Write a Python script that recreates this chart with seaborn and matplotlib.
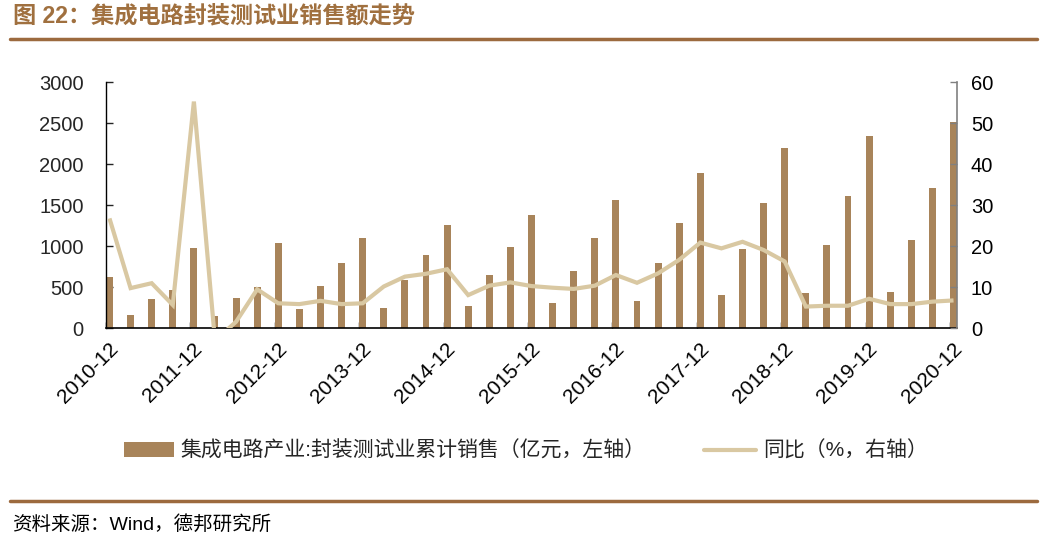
import numpy as np
import pandas as pd
import matplotlib
matplotlib.use("Agg")
import matplotlib.pyplot as plt
import matplotlib.transforms as mtransforms
from matplotlib.lines import Line2D
from matplotlib.patches import Patch
import seaborn as sns

# ---------------- data ----------------
periods = [
    "2010-12", "2011-03", "2011-06", "2011-09", "2011-12",
    "2012-03", "2012-06", "2012-09", "2012-12",
    "2013-03", "2013-06", "2013-09", "2013-12",
    "2014-03", "2014-06", "2014-09", "2014-12",
    "2015-03", "2015-06", "2015-09", "2015-12",
    "2016-03", "2016-06", "2016-09", "2016-12",
    "2017-03", "2017-06", "2017-09", "2017-12",
    "2018-03", "2018-06", "2018-09", "2018-12",
    "2019-03", "2019-06", "2019-09", "2019-12",
    "2020-03", "2020-06", "2020-09", "2020-12",
]
sales = [630, 160, 362, 467, 976, 154, 370, 508, 1036, 232, 516, 793, 1099,
         252, 585, 890, 1256, 276, 646, 992, 1384, 305, 703, 1098, 1564,
         337, 801, 1280, 1890, 402, 972, 1524, 2194, 427, 1020, 1610, 2350,
         447, 1081, 1711, 2510]
yoy = [26.8, 9.8, 11.0, 5.7, 55.3, -3.0, 1.6, 9.5, 6.1, 5.9, 6.7, 5.9, 6.1,
       10.2, 12.6, 13.3, 14.4, 8.1, 10.4, 11.2, 10.3, 9.9, 9.6, 10.4, 13.0,
       11.1, 13.4, 16.7, 20.9, 19.5, 21.1, 19.1, 16.3, 5.3, 5.5, 5.5, 7.2,
       5.9, 5.9, 6.5, 6.8]
tick_labels = ["2010-12", "2011-12", "2012-12", "2013-12", "2014-12", "2015-12",
               "2016-12", "2017-12", "2018-12", "2019-12", "2020-12"]
left_ticks = [0, 500, 1000, 1500, 2000, 2500, 3000]
right_ticks = [0, 10, 20, 30, 40, 50, 60]

title = "图 22：集成电路封装测试业销售额走势"
bar_label = "集成电路产业:封装测试业累计销售（亿元，左轴）"
line_label = "同比（%，右轴）"
source = "资料来源：Wind，德邦研究所"

# ---------------- style ----------------
sns.set_style("white")
plt.rcParams["font.family"] = ["Liberation Sans", "Noto Sans CJK SC"]
plt.rcParams["axes.unicode_minus"] = False

BAR_C = "#A8845A"
LINE_C = "#D9C8A2"
BROWN = "#9C6A3E"

df = pd.DataFrame({"period": periods, "sales": sales, "yoy": yoy})
df["pos"] = range(len(df))

W, H, DPI = 10.5, 5.38, 100
fig = plt.figure(figsize=(W, H), dpi=DPI)
ax = fig.add_axes([106 / 1050, 1 - 328.3 / 538, (957 - 106) / 1050, (328.3 - 82.3) / 538])

bw = 0.33
sns.barplot(data=df, x="period", y="sales", order=periods, color=BAR_C,
            width=bw, saturation=1, ax=ax, edgecolor="none")
ax2 = ax.twinx()
sns.lineplot(data=df, x="pos", y="yoy", color=LINE_C, linewidth=3.0, ax=ax2,
             solid_joinstyle="miter", solid_capstyle="butt")

n = len(periods)
ax.set_xlim(-bw / 2, n - 1 + bw / 2)
ax2.set_xlim(-bw / 2, n - 1 + bw / 2)
ax.set_ylim(0, 3000)
ax2.set_ylim(0, 60)
ax.set_yticks(left_ticks)
ax.set_yticklabels([str(t) for t in left_ticks])
ax2.set_yticks(right_ticks)
ax2.set_yticklabels([str(t) for t in right_ticks])

tick_pos = [periods.index(p) - bw / 2 for p in tick_labels]
ax.set_xticks(tick_pos)
ax.set_xticklabels(tick_labels, rotation=45, ha="right", va="center",
                   rotation_mode="anchor")
ax.set_xlabel("")
ax.set_ylabel("")
ax2.set_xlabel("")
ax2.set_ylabel("")

ax.tick_params(axis="x", direction="in", length=4, width=1, pad=13,
               labelsize=15, colors="black", bottom=True)
ax.tick_params(axis="y", direction="in", length=5, width=1, pad=16,
               labelsize=14.5, left=True)
ax2.tick_params(axis="y", direction="in", length=5, width=1, pad=10,
                labelsize=14.5, right=True, color="#808080", labelcolor="black")

offset = mtransforms.ScaledTranslation(6.5 / 72, 0, fig.dpi_scale_trans)
for lab in ax.get_xticklabels():
    lab.set_transform(lab.get_transform() + offset)

for a in (ax, ax2):
    a.spines["top"].set_visible(False)
    a.grid(False)
ax.spines["right"].set_visible(False)
ax.spines["left"].set_color("black")
ax.spines["bottom"].set_color("black")
ax.spines["left"].set_linewidth(1)
ax.spines["bottom"].set_linewidth(1.2)
ax2.spines["left"].set_visible(False)
ax2.spines["bottom"].set_visible(False)
ax2.spines["right"].set_color("#808080")
ax2.spines["right"].set_linewidth(1.2)
ax.set_zorder(1)
ax2.set_zorder(2)
ax2.patch.set_visible(False)

# ---------------- legends ----------------
h1 = Patch(facecolor=BAR_C, edgecolor="none")
leg1 = fig.legend([h1], [bar_label], loc="center left",
                  bbox_to_anchor=(124 / 1050, 1 - 451 / 538), frameon=False,
                  borderpad=0, borderaxespad=0, handlelength=2.4,
                  handleheight=0.75, handletextpad=0.33, fontsize=15)
h2 = Line2D([], [], color=LINE_C, linewidth=3.0)
leg2 = fig.legend([h2], [line_label], loc="center left",
                  bbox_to_anchor=(704 / 1050, 1 - 451 / 538), frameon=False,
                  borderpad=0, borderaxespad=0, handlelength=2.5,
                  handletextpad=0.33, fontsize=15)

# ---------------- title / rules / source ----------------
fig.text(13 / 1050, 1 - 16 / 538, title, fontsize=16.7, fontweight="bold",
         color="#A0703F", ha="left", va="center")
fig.add_artist(Line2D([10 / 1050, 1037 / 1050], [1 - 38.5 / 538] * 2,
                      transform=fig.transFigure, color=BROWN, linewidth=2.5))
fig.add_artist(Line2D([10 / 1050, 1037 / 1050], [1 - 501 / 538] * 2,
                      transform=fig.transFigure, color=BROWN, linewidth=2.5))
fig.text(12 / 1050, 1 - 525 / 538, source, fontsize=14, color="black",
         ha="left", va="center")

fig.savefig("out.png", dpi=DPI)
